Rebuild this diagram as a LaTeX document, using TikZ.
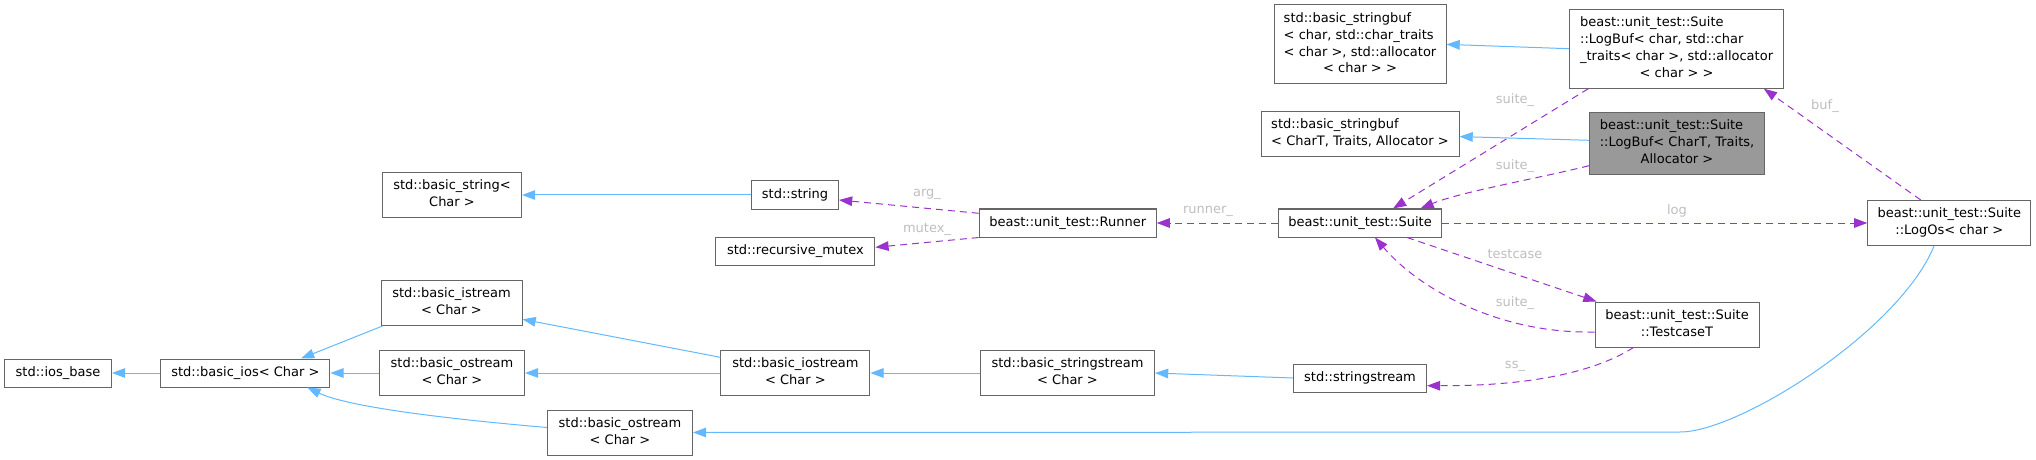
\documentclass[tikz,border=0pt]{standalone}
\usepackage{fontspec}
\setmainfont{DejaVu Sans}
\usetikzlibrary{arrows.meta}
\definecolor{dgblue}{HTML}{63B8FF}
\definecolor{dgpurple}{HTML}{9A32CD}
\definecolor{dgborder}{HTML}{666666}
\definecolor{dgfill}{HTML}{999999}
\definecolor{dglabel}{HTML}{BEBEBE}
\newcommand{\dglines}[2]{\begin{tabular}{@{}l@{}}#1\\\multicolumn{1}{@{}c@{}}{#2}\end{tabular}}
\tikzset{
  cls/.style={draw=dgborder, line width=0.5pt, fill=white, inner sep=0pt,
    font=\fontsize{6.5}{8.35}\selectfont},
  inherit/.style={dgblue, line width=0.5pt, -{Triangle[length=6.6pt,width=4.8pt]}},
  member/.style={dgpurple, line width=0.5pt, dash pattern=on 3.5pt off 2.5pt,
    -{Triangle[length=6.6pt,width=4.8pt]}},
  edgelbl/.style={text=dglabel, inner sep=0pt, font=\fontsize{6.5}{8.35}\selectfont},
}
\begin{document}
\begin{tikzpicture}[x=0.5pt, y=-0.5pt]
  \useasboundingbox (0,0) rectangle (2036,460);
  % std side
  \node[cls, minimum width=53.5pt, minimum height=14pt] (iosbase) at (58,373) {std::ios\_base};
  \node[cls, minimum width=84.5pt, minimum height=14pt] (basicios) at (245.4,373) {std::basic\_ios< Char >};
  \node[cls, minimum width=69.5pt, minimum height=22.5pt] (basicstring) at (452,195) {\dglines{std::basic\_string<}{Char >}};
  \node[cls, minimum width=70.5pt, minimum height=22.5pt] (basicistream) at (451.5,303) {\dglines{std::basic\_istream}{< Char >}};
  \node[cls, minimum width=72.5pt, minimum height=22.5pt] (basicostreamA) at (452,373) {\dglines{std::basic\_ostream}{< Char >}};
  \node[cls, minimum width=72.5pt, minimum height=22.5pt] (basicostreamB) at (620,432.5) {\dglines{std::basic\_ostream}{< Char >}};
  \node[cls, minimum width=43.5pt, minimum height=14pt] (stdstring) at (795,195) {std::string};
  \node[cls, minimum width=79.5pt, minimum height=14pt] (recmutex) at (795.4,251) {std::recursive\_mutex};
  \node[cls, minimum width=74.5pt, minimum height=22.5pt] (basiciostream) at (795.4,373) {\dglines{std::basic\_iostream}{< Char >}};
  \node[cls, minimum width=87pt, minimum height=22.5pt] (basicsstream) at (1067.5,373) {\dglines{std::basic\_stringstream}{< Char >}};
  \node[cls, minimum width=66.5pt, minimum height=14pt] (stringstream) at (1360,378) {std::stringstream};
  \node[cls, minimum width=86pt, minimum height=39.5pt] (stringbufchar) at (1360,44.4)
    {\dglines{std::basic\_stringbuf\\< char, std::char\_traits\\< char >, std::allocator}{< char > >}};
  \node[cls, minimum width=99pt, minimum height=22.5pt] (stringbufT) at (1360,134)
    {\dglines{std::basic\_stringbuf}{< CharT, Traits, Allocator >}};
  % beast side
  \node[cls, minimum width=88.5pt, minimum height=14pt] (runner) at (1067.7,223) {beast::unit\_test::Runner};
  \node[cls, minimum width=81.5pt, minimum height=14pt] (suite) at (1360,223) {beast::unit\_test::Suite};
  \node[cls, minimum width=107pt, minimum height=39.5pt] (logbufchar) at (1676.6,48.7)
    {\dglines{beast::unit\_test::Suite\\::LogBuf< char, std::char\\\_traits< char >, std::allocator}{< char > >}};
  \node[cls, fill=dgfill, minimum width=87.5pt, minimum height=31pt] (logbufT) at (1677,143.3)
    {\dglines{beast::unit\_test::Suite\\::LogBuf< CharT, Traits,}{Allocator >}};
  \node[cls, minimum width=82pt, minimum height=22.5pt] (testcase) at (1677,324.5)
    {\dglines{beast::unit\_test::Suite}{::TestcaseT}};
  \node[cls, minimum width=81.5pt, minimum height=22.5pt] (logos) at (1949.3,223)
    {\dglines{beast::unit\_test::Suite}{::LogOs< char >}};

  % inheritance
  \draw[inherit] (basicios.west) -- (iosbase.east);
  \draw[inherit] ([xshift=1pt]basicistream.south west) -- ([xshift=27.8pt]basicios.north);
  \draw[inherit] (basicostreamA.west) -- (basicios.east);
  \draw[inherit] ([yshift=2.5pt]basicostreamB.west) .. controls (460,420) and (350,408) .. ([xshift=31pt]basicios.south);
  \draw[inherit] (stdstring.west) -- (basicstring.east);
  \draw[inherit] ([yshift=7.85pt]basiciostream.west) -- ([yshift=-8.15pt]basicistream.east);
  \draw[inherit] (basiciostream.west) -- (basicostreamA.east);
  \draw[inherit] (basicsstream.west) -- (basiciostream.east);
  \draw[inherit] (stringstream.west) -- (basicsstream.east);
  \draw[inherit] (logbufchar.west) -- (stringbufchar.east);
  \draw[inherit] ([yshift=1.5pt]logbufT.west) -- ([yshift=-1.3pt]stringbufT.east);
  \draw[inherit] ([xshift=-7.65pt]logos.south) .. controls (1900,330) and (1740,432) .. (1680,432) -- (basicostreamB.east);

  % members
  \draw[member] ([yshift=4.85pt]runner.west) -- ([yshift=-2.5pt]stdstring.east);
  \draw[member] (runner.south west) -- ([yshift=1.85pt]recmutex.east);
  \draw[member] (suite.west) -- (runner.east);
  \draw[member] ([xshift=9.6pt]logbufchar.south west) -- ([xshift=16.5pt]suite.north);
  \draw[member] ([yshift=-11.2pt]logbufT.west) .. controls (1540,178) and (1460,192) .. ([xshift=30.25pt]suite.north);
  \draw[member] (suite.east) -- (logos.west);
  \draw[member] ([xshift=-14.3pt]logos.north) -- ([xshift=43.6pt]logbufchar.south);
  \draw[member] ([xshift=23.5pt]suite.south) -- ([xshift=1pt]testcase.north west);
  \draw[member] ([yshift=-3.75pt]testcase.west) .. controls (1500,334) and (1420,290) .. ([xshift=7.5pt]suite.south);
  \draw[member] ([xshift=-21.75pt]testcase.south) .. controls (1590,375) and (1520,386) .. ([yshift=-3.85pt]stringstream.east);

  % edge labels
  \node[edgelbl] (lblarg) at (927,194) {arg\_};
  \node[edgelbl] (lblmutex) at (927,229) {mutex\_};
  \node[edgelbl] (lblrunner) at (1208,211) {runner\_};
  \node[edgelbl] (lblsuiteA) at (1515,100) {suite\_};
  \node[edgelbl] (lblsuiteB) at (1515,165.7) {suite\_};
  \node[edgelbl] (lbllog) at (1677,210.7) {log};
  \node[edgelbl] (lblbuf) at (1825,106) {buf\_};
  \node[edgelbl] (lbltestcase) at (1515,254) {testcase};
  \node[edgelbl] (lblsuiteC) at (1515,303) {suite\_};
  \node[edgelbl] (lblss) at (1515,366.7) {ss\_};
\end{tikzpicture}
\end{document}
